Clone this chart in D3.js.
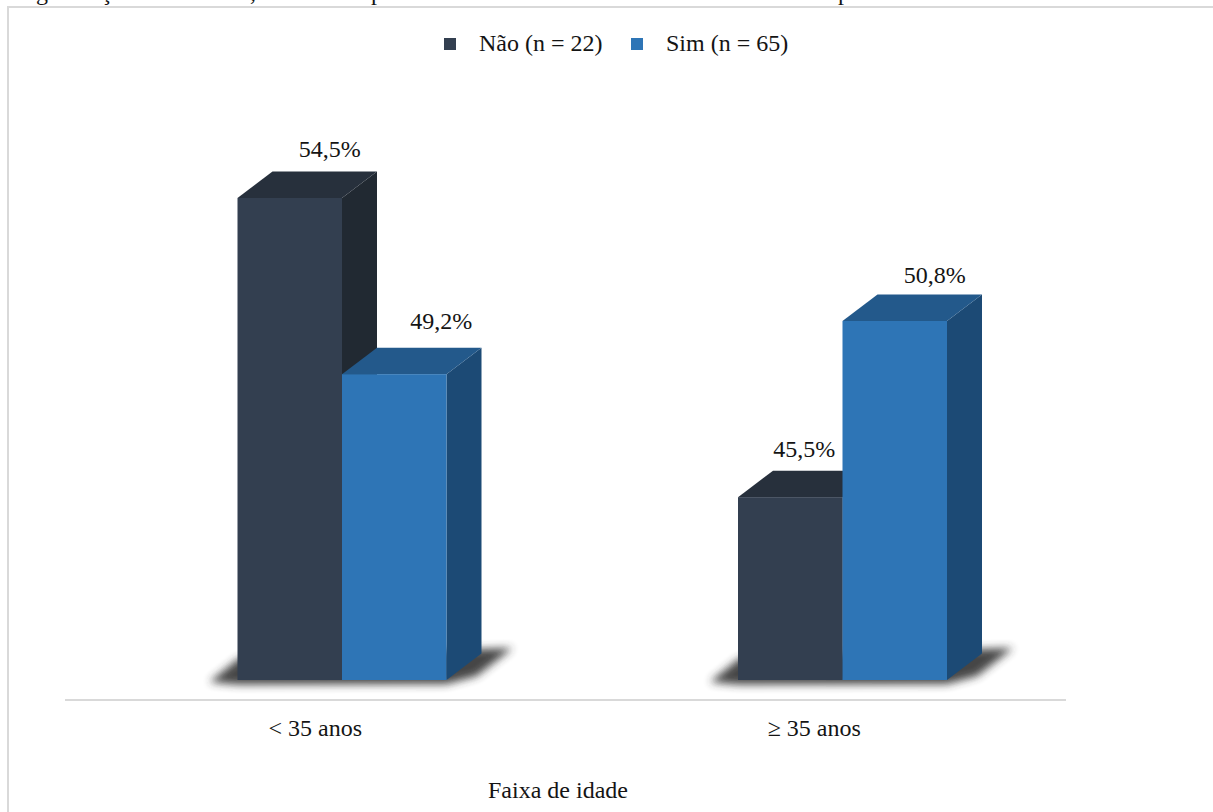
<!DOCTYPE html>
<html lang="pt">
<head>
<meta charset="utf-8">
<title>Faixa de idade</title>
<script src="https://cdn.jsdelivr.net/npm/d3@7/dist/d3.min.js"></script>
<style>
  html, body { margin: 0; padding: 0; background: #fff; overflow: hidden; }
  svg { display: block; }
  text { font-family: "Liberation Serif", serif; font-size: 24px; fill: #141414; }
</style>
</head>
<body>
<svg id="chart" width="1213" height="812"></svg>
<script>
// Chart data
const categories = ["< 35 anos", "≥ 35 anos"];
const seriesNames = ["Não (n = 22)", "Sim (n = 65)"];
const naoValues = [54.5, 45.5];
const simValues = [49.2, 50.8];
const axisTitle = "Faixa de idade";

// Shift of each percent label from the centre of its bar's front face
const naoLabelShift = [[40, -41], [14, -40]];
const simLabelShift = [[47, -45], [40, -38]];

// Colours per series: front, top and side faces of the bar
const faceColors = [
  { front: "#333f50", top: "#27303c", side: "#212932" },
  { front: "#2e75b6", top: "#23598b", side: "#1c4a75" }
];

// Descenders of the caption line that runs off the top edge
const captionGlyphs = [["g", 36], ["ç", 101], [",", 250], ["p", 371], ["p", 838]];

const svg = d3.select("#chart");

const x0 = d3.scaleBand().domain(categories).range([65, 1066]);
const x1 = d3.scaleBand().domain(seriesNames).range([-77.75, 131.25]);
const y = d3.scaleLinear().domain([40, 54.5]).range([680, 198]);

const depthX = 35, depthY = -26.5;
const baseY = y(40);

// Caption fragments
svg.append("g").selectAll("text").data(captionGlyphs).join("text")
  .attr("x", d => d[1]).attr("y", 0).text(d => d[0]);

// Frame: only the top and left sides fall inside the page
svg.append("rect")
  .attr("x", 8).attr("y", 7).attr("width", 1400).attr("height", 1000)
  .attr("fill", "none").attr("stroke", "#d9d9d9").attr("stroke-width", 2);

// Legend
const legendX = [444, 631];
const legend = svg.append("g").selectAll("g").data(seriesNames).join("g")
  .attr("transform", (d, i) => `translate(${legendX[i]},0)`);
legend.append("rect")
  .attr("y", 38).attr("width", 12).attr("height", 12)
  .attr("fill", (d, i) => faceColors[i].front);
legend.append("text").attr("x", 35).attr("y", 51).text(d => d);

// Soft ground shadow under each bar group
const defs = svg.append("defs");
defs.append("filter").attr("id", "groundBlur")
  .attr("x", "-20%").attr("y", "-50%").attr("width", "140%").attr("height", "200%")
  .append("feGaussianBlur").attr("stdDeviation", 4);

const groupWidth = x1.bandwidth() * 2;
svg.append("g").selectAll("polygon").data(categories).join("polygon")
  .attr("points", c => {
    const l = x0(c) + x0.bandwidth() / 2 + x1(seriesNames[0]);
    const r = l + groupWidth;
    return [
      [l - 28, baseY + 2], [l + 2, baseY - 22], [r + 35, baseY - 31],
      [r + 66, baseY - 32], [r + 30, baseY - 4], [r, baseY + 4], [l, baseY + 4.5]
    ].map(p => p.join(",")).join(" ");
  })
  .attr("fill", "#333").attr("opacity", 0.9)
  .attr("filter", "url(#groundBlur)");

// Axis line and category labels
const axis = svg.append("g")
  .attr("transform", "translate(0,700)")
  .call(d3.axisBottom(x0).tickSize(0).tickPadding(19).offset(0));
axis.select(".domain").attr("stroke", "#d9d9d9").attr("stroke-width", 2);
axis.selectAll("text").attr("font-family", null).attr("font-size", null)
  .attr("dx", (d, i) => i === 1 ? -1.5 : 0)
  .style("font-family", '"Liberation Serif", serif').style("font-size", "24px")
  .style("fill", "#141414");

// Flatten the two series into one list of bars, drawn left to right
const bars = [];
categories.forEach((c, ci) => {
  bars.push({ c, s: 0, name: seriesNames[0], value: naoValues[ci], shift: naoLabelShift[ci] });
  bars.push({ c, s: 1, name: seriesNames[1], value: simValues[ci], shift: simLabelShift[ci] });
});

const barLeft = d => x0(d.c) + x0.bandwidth() / 2 + x1(d.name);
const poly = pts => pts.map(p => p.join(",")).join(" ");

const barGroups = svg.append("g").selectAll("g").data(bars).join("g");

// Side face
barGroups.append("polygon")
  .attr("fill", d => faceColors[d.s].side)
  .attr("points", d => {
    const r = barLeft(d) + x1.bandwidth(), t = y(d.value);
    return poly([[r, t], [r + depthX, t + depthY], [r + depthX, baseY + depthY], [r, baseY]]);
  });
// Top face
barGroups.append("polygon")
  .attr("fill", d => faceColors[d.s].top)
  .attr("points", d => {
    const l = barLeft(d), r = l + x1.bandwidth(), t = y(d.value);
    return poly([[l, t], [l + depthX, t + depthY], [r + depthX, t + depthY], [r, t]]);
  });
// Front face
barGroups.append("rect")
  .attr("x", barLeft)
  .attr("y", d => y(d.value))
  .attr("width", x1.bandwidth())
  .attr("height", d => baseY - y(d.value))
  .attr("fill", d => faceColors[d.s].front);

// Percent labels, formatted with a decimal comma
svg.append("g").selectAll("text").data(bars).join("text")
  .attr("text-anchor", "middle")
  .attr("x", d => barLeft(d) + x1.bandwidth() / 2 + d.shift[0])
  .attr("y", d => y(d.value) + d.shift[1])
  .text(d => d.value.toFixed(1).replace(".", ",") + "%");

// Axis title
svg.append("text")
  .attr("x", 558).attr("y", 798).attr("text-anchor", "middle")
  .text(axisTitle);
</script>
</body>
</html>
